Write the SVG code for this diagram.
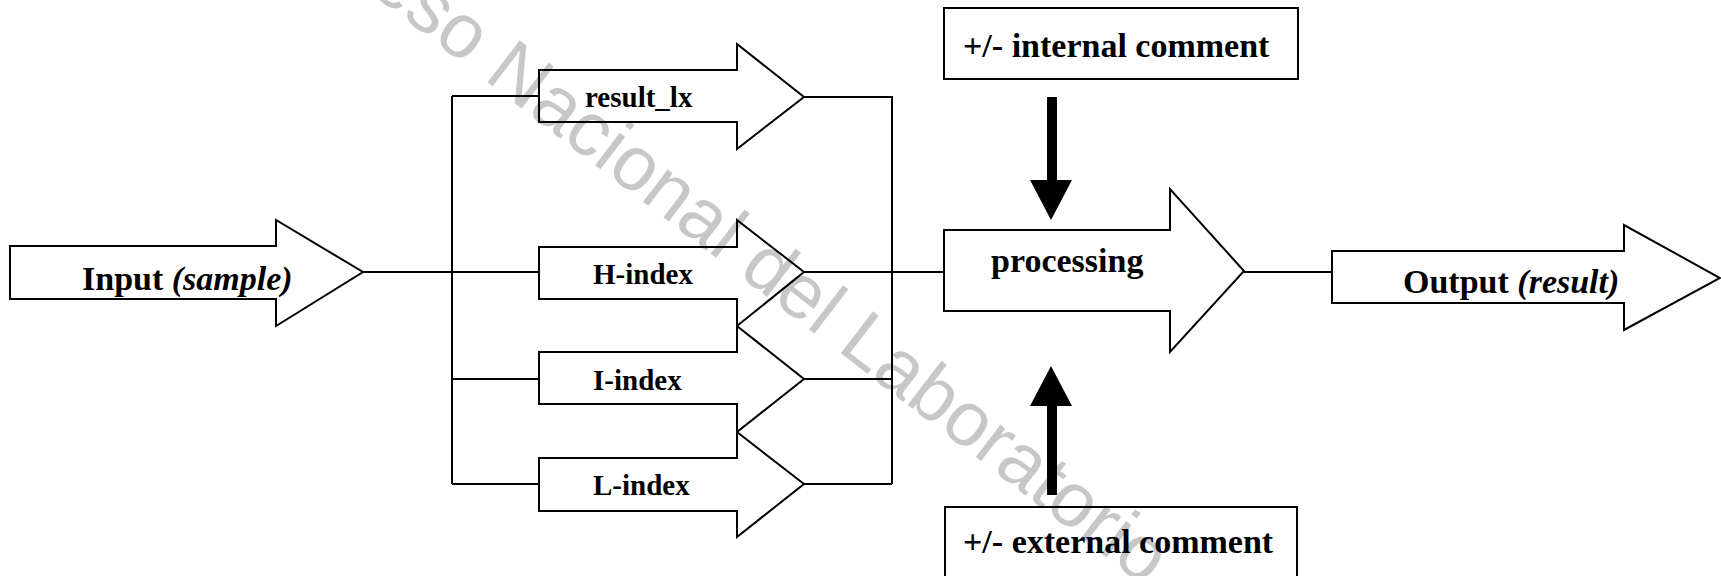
<svg xmlns="http://www.w3.org/2000/svg" width="1721" height="576" viewBox="0 0 1721 576">
  <style>
    .shape { fill: #ffffff; stroke: #000000; stroke-width: 2; stroke-linejoin: miter; }
    .wire { fill: none; stroke: #000000; stroke-width: 2; }
    .solid { fill: #000000; stroke: none; }
    .lbl { font-family: "Liberation Serif", "Times New Roman", serif; font-weight: bold; fill: #000000; }
    .big { font-size: 34px; }
    .small { font-size: 29px; }
    .it { font-style: italic; }
    .mark { font-family: "Liberation Sans", Arial, sans-serif; font-size: 77px; fill: #000000; fill-opacity: 0.22; }
  </style>
  <rect width="1721" height="576" fill="#ffffff"/>

  <!-- connecting lines and feedback arrows -->
  <g id="connectors">
    <path class="wire" d="M363,272 H539"/>
    <path class="wire" d="M452,96 V484"/>
    <path class="wire" d="M452,96 H539"/>
    <path class="wire" d="M452,379 H539"/>
    <path class="wire" d="M452,484 H539"/>
    <path class="wire" d="M804,97 H892 V484"/>
    <path class="wire" d="M804,272 H944"/>
    <path class="wire" d="M804,379 H892"/>
    <path class="wire" d="M804,484 H892"/>
    <path class="wire" d="M1244,272 H1332"/>
    <polygon class="solid" points="1047,97 1057,97 1057,180 1072,180 1051,220 1030,180 1047,180"/>
    <polygon class="solid" points="1047,495 1057,495 1057,406 1072,406 1051,366 1030,406 1047,406"/>
  </g>

  <g id="input">
    <path class="shape" d="M10,246 H276 V220 L363,272 L276,326 V299 H10 Z"/>
    <text class="lbl big" x="82" y="290">Input <tspan class="it">(sample)</tspan></text>
  </g>

  <g id="result-lx">
    <path class="shape" d="M539,70 H737 V44 L804,97 L737,149 V122 H539 Z"/>
    <text class="lbl small" x="585" y="107">result_lx</text>
  </g>

  <g id="h-index">
    <path class="shape" d="M539,247 H737 V220 L804,272 L737,326 V299 H539 Z"/>
    <text class="lbl small" x="593" y="284">H-index</text>
  </g>

  <g id="i-index">
    <path class="shape" d="M539,352 H737 V326 L804,379 L737,432 V404 H539 Z"/>
    <text class="lbl small" x="593" y="390">I-index</text>
  </g>

  <g id="l-index">
    <path class="shape" d="M539,458 H737 V432 L804,484 L737,537 V511 H539 Z"/>
    <text class="lbl small" x="593" y="495">L-index</text>
  </g>

  <g id="processing">
    <path class="shape" d="M944,230 H1170 V189 L1244,271 L1170,352 V311 H944 Z"/>
    <text class="lbl big" x="991" y="272">processing</text>
  </g>

  <g id="output">
    <path class="shape" d="M1332,251 H1624 V225 L1720,278 L1624,330 V303 H1332 Z"/>
    <text class="lbl big" x="1403" y="293">Output <tspan class="it">(result)</tspan></text>
  </g>

  <g id="internal-comment">
    <rect class="shape" x="944" y="8" width="354" height="71"/>
    <text class="lbl big" x="963" y="57">+/- internal comment</text>
  </g>

  <g id="external-comment">
    <rect class="shape" x="945" y="507" width="352" height="90"/>
    <text class="lbl big" x="963" y="553">+/- external comment</text>
  </g>

  <!-- diagonal watermark -->
  <text class="mark" transform="translate(367,-10) rotate(37.5)">eso Nacional del Laboratorio</text>
</svg>
